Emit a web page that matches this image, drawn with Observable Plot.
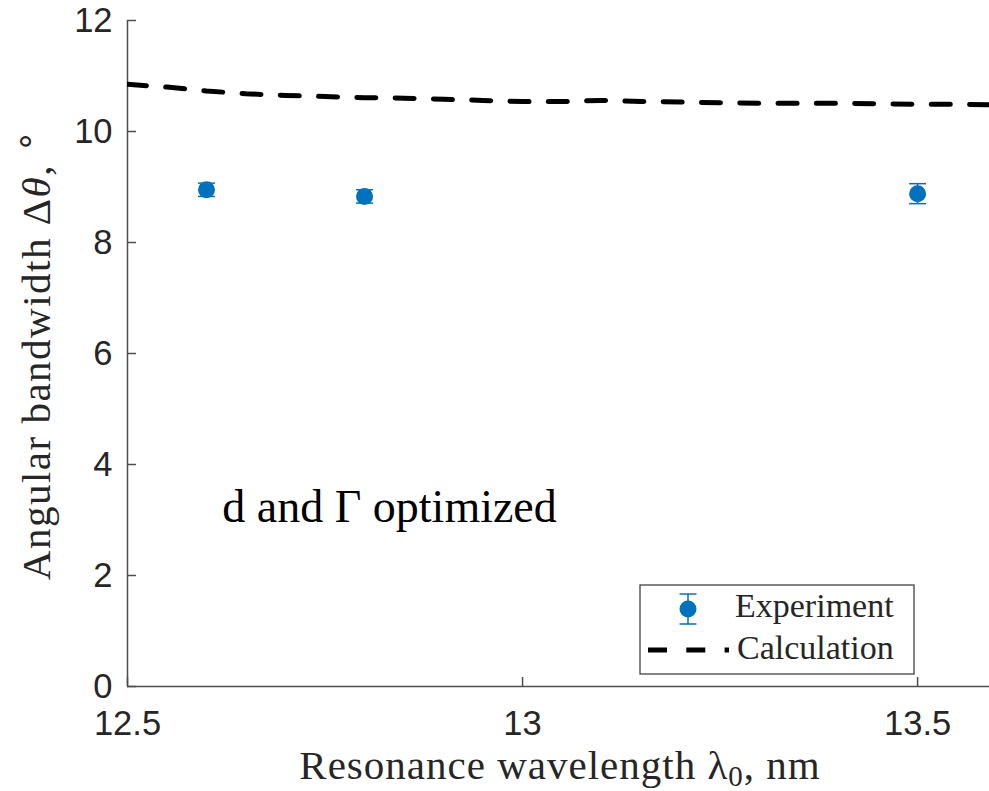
<!DOCTYPE html>
<html>
<head>
<meta charset="utf-8">
<script src="https://cdn.jsdelivr.net/npm/d3@7"></script>
<script src="https://cdn.jsdelivr.net/npm/@observablehq/plot@0.6"></script>
<style>
  html, body { margin: 0; padding: 0; background: white; }
  #chart svg { display: block; }
</style>
</head>
<body>
<div id="chart"></div>
<script>
// Calculated angular bandwidth versus resonance wavelength
const lambdaCalc = [12.50, 12.55, 12.60, 12.65, 12.70, 12.75, 12.80, 12.85, 12.90, 12.95,
                    13.00, 13.05, 13.10, 13.15, 13.20, 13.25, 13.30, 13.35, 13.40, 13.45,
                    13.50, 13.55, 13.60];
const bwCalc = [10.85, 10.80, 10.73, 10.68, 10.65, 10.63, 10.61, 10.60, 10.58, 10.56,
                10.54, 10.54, 10.56, 10.54, 10.53, 10.52, 10.51, 10.51, 10.51, 10.50,
                10.49, 10.49, 10.48];

// Measured angular bandwidth with error bars
const lambdaExp = [12.6, 12.8, 13.5];
const bwExp = [8.95, 8.83, 8.88];
const bwErr = [0.12, 0.12, 0.18];

const xTicks = [12.5, 13, 13.5];
const yTicks = [0, 2, 4, 6, 8, 10, 12];

const noteText = "d and \u0393 optimized";
const noteX = 12.62, noteY = 3.23;

const blue = "#0072BD";
const axisGray = "#4d4d4d";
const textDark = "#262626";
const serif = "'Liberation Serif', 'Times New Roman', serif";

// horizontal cap for error bars
const capSymbol = { draw(ctx, size) { const w = 8.5; ctx.moveTo(-w, 0); ctx.lineTo(w, 0); } };

const lo = bwExp.map((v, i) => v - bwErr[i]);
const hi = bwExp.map((v, i) => v + bwErr[i]);

const chart = Plot.plot({
  width: 989,
  height: 791,
  marginLeft: 127,
  marginRight: 0,
  marginTop: 20,
  marginBottom: 105,
  x: { domain: [12.5, 13.591] },
  y: { domain: [0, 12] },
  style: { fontFamily: "'Liberation Sans', Arial, sans-serif", fontSize: "34.5px", color: textDark, background: "white" },
  marks: [
    Plot.ruleY([0], { stroke: axisGray, strokeWidth: 1.5 }),
    Plot.ruleX([12.5], { stroke: axisGray, strokeWidth: 1.5 }),
    Plot.axisX(xTicks, { tickSize: -9, tickPadding: 33, stroke: axisGray, strokeWidth: 1.5, tickFormat: d => String(d), label: null }),
    Plot.axisY(yTicks, { tickSize: -9, tickPadding: 24, stroke: axisGray, strokeWidth: 1.5, tickFormat: d => String(d), label: null }),
    Plot.line(bwCalc, { x: lambdaCalc, y: bwCalc, stroke: "black", strokeWidth: 5, strokeDasharray: "19,19.3", clip: true }),
    Plot.ruleX(bwExp, { x: lambdaExp, y1: lo, y2: hi, stroke: blue, strokeWidth: 1.5 }),
    Plot.dot(lo, { x: lambdaExp, y: lo, symbol: capSymbol, stroke: blue, strokeWidth: 1.5, r: 5 }),
    Plot.dot(hi, { x: lambdaExp, y: hi, symbol: capSymbol, stroke: blue, strokeWidth: 1.5, r: 5 }),
    Plot.dot(bwExp, { x: lambdaExp, y: bwExp, r: 8.5, fill: blue }),
    Plot.text([noteText], { x: noteX, y: noteY, text: d => d, textAnchor: "start", lineAnchor: "middle",
      fontFamily: serif, fontSize: 46, fill: "black" })
  ]
});

document.getElementById("chart").appendChild(chart);

const svg = d3.select(chart);

// axis titles
const xLab = svg.append("text")
  .attr("x", 560).attr("y", 779)
  .attr("text-anchor", "middle")
  .attr("letter-spacing", 1)
  .attr("font-family", serif).attr("font-size", 41).attr("fill", textDark);
xLab.append("tspan").text("Resonance wavelength \u03BB");
xLab.append("tspan").attr("font-size", 29).attr("dy", 7).text("0");
xLab.append("tspan").attr("dy", -7).text(", nm");

const yLab = svg.append("text")
  .attr("transform", "translate(50,355) rotate(-90)")
  .attr("text-anchor", "middle")
  .attr("letter-spacing", 1.5)
  .attr("font-family", serif).attr("font-size", 41).attr("fill", textDark);
yLab.append("tspan").text("Angular bandwidth \u0394");
yLab.append("tspan").attr("font-style", "italic").text("\u03B8");
yLab.append("tspan").text(", ");
yLab.append("tspan").attr("font-size", 34).attr("dy", -14).text("\u2218");

// legend
const lg = svg.append("g").attr("transform", "translate(640,585)").attr("text-anchor", "start");
lg.append("rect").attr("width", 274).attr("height", 89)
  .attr("fill", "white").attr("stroke", "#333").attr("stroke-width", 1.2);
lg.append("line").attr("x1", 48).attr("x2", 48).attr("y1", 9).attr("y2", 39)
  .attr("stroke", blue).attr("stroke-width", 1.5);
lg.append("line").attr("x1", 39.5).attr("x2", 56.5).attr("y1", 9).attr("y2", 9)
  .attr("stroke", blue).attr("stroke-width", 1.5);
lg.append("line").attr("x1", 39.5).attr("x2", 56.5).attr("y1", 39).attr("y2", 39)
  .attr("stroke", blue).attr("stroke-width", 1.5);
lg.append("circle").attr("cx", 48).attr("cy", 24).attr("r", 8.5).attr("fill", blue);
lg.append("text").attr("x", 95).attr("y", 32).attr("text-anchor", "start")
  .attr("font-family", serif).attr("font-size", 34).attr("fill", textDark).text("Experiment");
lg.append("line").attr("x1", 8).attr("x2", 89).attr("y1", 65).attr("y2", 65)
  .attr("stroke", "black").attr("stroke-width", 5).attr("stroke-dasharray", "19,19.3");
lg.append("text").attr("x", 97).attr("y", 74).attr("text-anchor", "start")
  .attr("font-family", serif).attr("font-size", 34).attr("fill", textDark).text("Calculation");
</script>
</body>
</html>
